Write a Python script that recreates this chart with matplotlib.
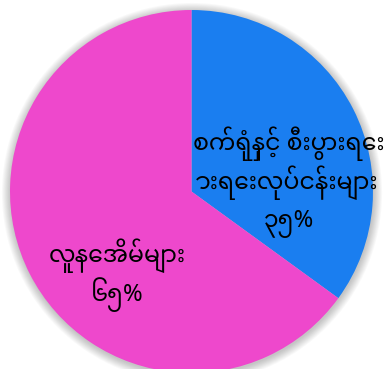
import matplotlib
matplotlib.use("Agg")
import matplotlib.pyplot as plt
from matplotlib.patches import Circle

categories = ["စက်ရုံနှင့် စီးပွားရေး\nားရေးလုပ်ငန်းများ", "လူနေအိမ်များ"]
values = [35, 65]
colors = ["#1a7ef0", "#ee48cc"]

families = ["Noto Sans Myanmar", "DejaVu Sans"]

def mm_digits(n):
    return "".join(chr(0x1040 + int(c)) for c in str(n))

W, H = 385, 369
fig = plt.figure(figsize=(W / 100, H / 100), dpi=100)
ax = fig.add_axes([0, 0, 1, 1])
cx, cy, r = 191.5, H - 191.5, 181.5

# soft shadow
for i in range(10):
    ax.add_patch(Circle((cx + 0.5, cy - 1.5), r + 0.5 + i * 0.9, color="black",
                        alpha=0.022, lw=0, zorder=0))

ax.pie(values, colors=colors, startangle=90, counterclock=False,
       center=(cx, cy), radius=r, wedgeprops=dict(linewidth=0))
ax.set_xlim(0, W)
ax.set_ylim(0, H)
ax.set_aspect("equal")
ax.axis("off")

# label anchor: (center x, first baseline y from top, line step)
label_pos = [(289, 150, 38.5), (117, 262, 38.5)]
for cat, v, (x, y0, step) in zip(categories, values, label_pos):
    lines = cat.split("\n") + [f"{mm_digits(v)}%"]
    for k, line in enumerate(lines):
        ax.text(x, H - (y0 + k * step), line, ha="center", va="baseline",
                fontsize=17, family=families, color="black")

fig.savefig("out.png", dpi=100)
